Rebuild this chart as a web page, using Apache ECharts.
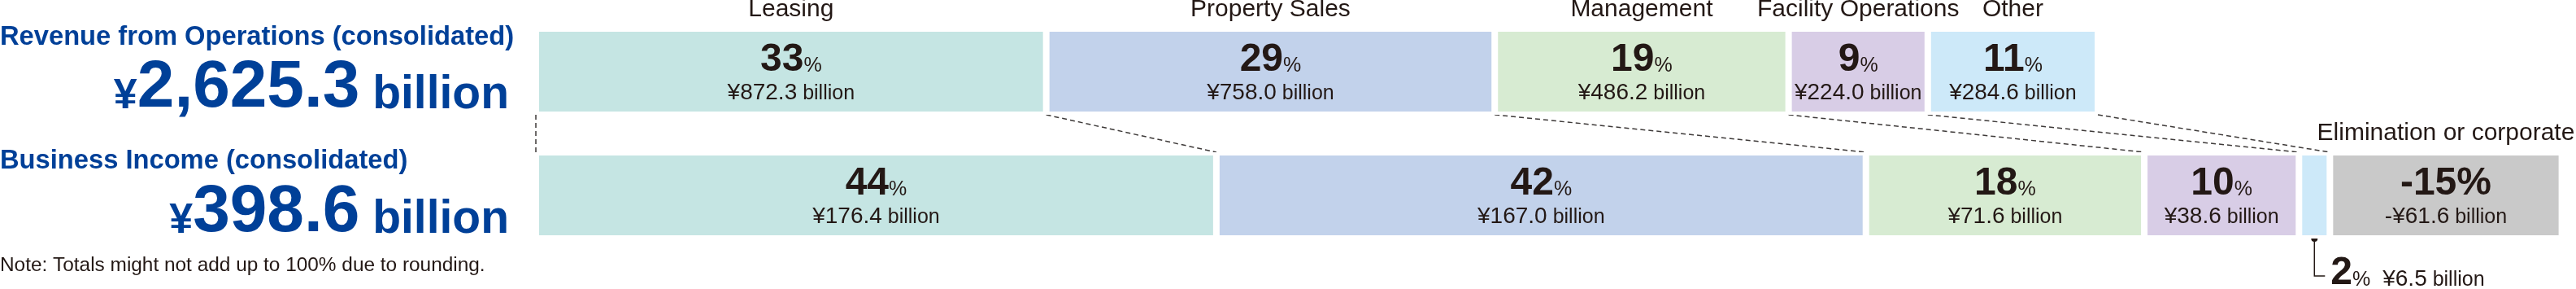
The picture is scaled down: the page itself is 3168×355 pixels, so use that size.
<!DOCTYPE html>
<html>
<head>
<meta charset="utf-8">
<title>Revenue and Business Income by Segment</title>
<script src="https://cdn.jsdelivr.net/npm/echarts@6/dist/echarts.min.js"></script>
<style>
  html, body { margin: 0; padding: 0; background: #ffffff; }
  #chart { width: 3168px; height: 355px; }
</style>
</head>
<body>
<div id="chart"></div>
<script>
// ---- data -------------------------------------------------------------
const segments = ['Leasing', 'Property Sales', 'Management', 'Facility Operations', 'Other', 'Elimination or corporate'];
const rows = ['Revenue from Operations (consolidated)', 'Business Income (consolidated)'];
const revenueShare = [33, 29, 19, 9, 11];                     // % of revenue
const revenueAmount = [872.3, 758.0, 486.2, 224.0, 284.6];    // ¥ billion
const incomeShare = [44, 42, 18, 10, 2, -15];                 // % of business income
const incomeAmount = [176.4, 167.0, 71.6, 38.6, 6.5, -61.6];  // ¥ billion
const rowTotals = [2625.3, 398.6];                            // ¥ billion
const noteText = 'Note: Totals might not add up to 100% due to rounding.';

// ---- styling ----------------------------------------------------------
const FONT = '"Liberation Sans", Arial, Helvetica, sans-serif';
const INK = '#231815';
const BLUE = '#004098';
const LINE = '#3e3a39';
const palette = ['#c5e5e3', '#c2d2eb', '#d7ebd2', '#d8cde6', '#cde9f9', '#c9c9c9'];
const BAR = 106;            // drawn bar thickness (includes the white seam)
const SEAM = 4;             // white gap between neighbouring blocks
const HALF = (BAR - SEAM) / 2;
const MID = 0.3465;         // alphabetic baseline below the 'middle' line, in ems
const BOT = 0.5 - MID;      // alphabetic baseline above the em-box bottom, in ems

// padding that puts a smaller token on the baseline of a bigger one (both bottom-aligned)
const lift = (size, ref) => (ref - size) * BOT;

const rowShares = [revenueShare, incomeShare];
const rowAmounts = [revenueAmount, incomeAmount];
const axisMax = Math.max(...rowShares.map(r => r.reduce((s, v) => s + Math.abs(v), 0)));

const fmtAmount = a => (a < 0 ? '-¥' : '¥') + Math.abs(a).toFixed(1);
const pctRich = s => (s < 0 ? `{n|${s}%}` : `{n|${s}}{s|%}`);

const labelRich = {
  n: { fontSize: 48, fontWeight: 'bold', fontFamily: FONT, color: INK, lineHeight: 50, verticalAlign: 'bottom' },
  s: { fontSize: 25, fontFamily: FONT, color: INK, verticalAlign: 'bottom', padding: [0, 0, lift(25, 48), 0] },
  v: { fontSize: 28, fontFamily: FONT, color: INK, lineHeight: 31, verticalAlign: 'bottom' },
  b: { fontSize: 25, fontFamily: FONT, color: INK, verticalAlign: 'bottom', padding: [0, 0, lift(25, 28), 0] }
};

// narrow blocks get their figures in a callout underneath instead of inside
const isNarrow = share => Math.abs(share) < 5;

const series = segments.map((name, i) => ({
  type: 'bar',
  name,
  stack: 'share',
  barWidth: BAR,
  silent: true,
  itemStyle: { color: palette[i], borderColor: '#ffffff', borderWidth: SEAM },
  label: {
    show: true,
    position: 'inside',
    color: INK,
    textBorderWidth: 0,
    fontFamily: FONT,
    rich: labelRich,
    formatter: p => {
      const share = rowShares[p.dataIndex][i];
      const amount = rowAmounts[p.dataIndex][i];
      return pctRich(share) + '\n' + `{v|${fmtAmount(amount)}}{b| billion}`;
    }
  },
  data: rowShares.map(r => {
    const s = r[i];
    if (s == null) return null;
    const item = { value: Math.abs(s) };
    if (isNarrow(s)) item.label = { show: false };
    return item;
  })
}));

const chart = echarts.init(document.getElementById('chart'), null, { renderer: 'canvas' });
chart.setOption({
  animation: false,
  backgroundColor: '#ffffff',
  grid: { left: 659, top: 12, width: axisMax * 19.02, height: 304 },
  xAxis: { type: 'value', min: 0, max: axisMax, show: false },
  yAxis: { type: 'category', data: rows, inverse: true, show: false },
  series
});

// ---- annotations placed from the chart's own coordinate system --------
const toPx = (share, row) => chart.convertToPixel({ gridIndex: 0 }, [share, row]);

function plainText(str, x, baseline, size, weight, color, align) {
  return {
    type: 'text', silent: true,
    style: {
      text: str, x, y: baseline - MID * size, fill: color,
      fontSize: size, fontWeight: weight, fontFamily: FONT,
      align, verticalAlign: 'middle'
    }
  };
}

function totalText(value, right, baseline) {
  const num = value.toLocaleString('en-US', { minimumFractionDigits: 1, maximumFractionDigits: 1 });
  const tok = (size, ref) => ({
    fontSize: size, fontWeight: 'bold', fontFamily: FONT, fill: BLUE,
    verticalAlign: 'bottom', padding: [0, 0, lift(size, ref), 0]
  });
  return {
    type: 'text', silent: true,
    style: {
      text: `{y|¥}{n|${num}}{b| billion}`,
      x: right, y: baseline + BOT * 82, align: 'right', verticalAlign: 'bottom',
      fill: BLUE, fontFamily: FONT, fontWeight: 'bold', fontSize: 82,
      rich: { y: tok(52, 82), n: tok(82, 82), b: tok(57, 82) }
    }
  };
}

const cum = r => r.reduce((acc, v) => { acc.push(acc[acc.length - 1] + Math.abs(v == null ? 0 : v)); return acc; }, [0]);
const topEdges = cum(revenueShare);
const bottomEdges = cum(incomeShare);
const edges = [topEdges, bottomEdges];

const g = [];

// row titles and totals
g.push(plainText(rows[0], 0, 57, 32.7, 'bold', BLUE, 'left'));
g.push(totalText(rowTotals[0], 626, 137));
g.push(plainText(rows[1], 0, 209, 32.7, 'bold', BLUE, 'left'));
g.push(totalText(rowTotals[1], 626, 290));
g.push(plainText(noteText, 0, 335, 24.4, 'normal', INK, 'left'));

// segment names above the first row each segment appears in
segments.forEach((name, i) => {
  const row = rowShares[0][i] != null ? 0 : 1;
  const mid = (edges[row][i] + edges[row][i + 1]) / 2;
  const [x, cy] = toPx(mid, row);
  g.push(plainText(name, x, cy - HALF - 15, 30, 'normal', INK, 'center'));
});

// dashed connectors between matching block edges of the two rows
for (let k = 0; k < topEdges.length; k++) {
  const [x1, c1] = toPx(topEdges[k], 0);
  const [x2, c2] = toPx(bottomEdges[k], 1);
  g.push({
    type: 'line', silent: true,
    shape: { x1, y1: c1 + HALF + 2, x2, y2: c2 - HALF - 2 },
    style: { stroke: LINE, lineWidth: 1.5, lineDash: [6, 4] }
  });
}

// callouts for narrow blocks
rowShares.forEach((r, row) => r.forEach((s, i) => {
  if (s == null || !isNarrow(s)) return;
  const mid = (edges[row][i] + edges[row][i + 1]) / 2;
  const [x, cy] = toPx(mid, row);
  const y0 = cy + HALF + 2;
  g.push({ type: 'circle', silent: true, shape: { cx: x, cy: y0, r: 4 }, style: { fill: INK } });
  g.push({
    type: 'polyline', silent: true,
    shape: { points: [[x, y0], [x, y0 + 46], [x + 13, y0 + 46]] },
    style: { stroke: INK, lineWidth: 1.5, fill: null }
  });
  const tok = (size, extra) => Object.assign({
    fontSize: size, fontFamily: FONT, fill: INK, verticalAlign: 'bottom'
  }, extra || {});
  g.push({
    type: 'text', silent: true,
    style: {
      text: `{n|${s}}{s|%}{v|${fmtAmount(rowAmounts[row][i])}}{b| billion}`,
      x: x + 20, y: y0 + 59.5 + BOT * 48, align: 'left', verticalAlign: 'bottom',
      fill: INK, fontFamily: FONT, fontSize: 48,
      rich: {
        n: tok(48, { fontWeight: 'bold' }),
        s: tok(25, { padding: [0, 0, lift(25, 48), 0] }),
        v: tok(28, { padding: [0, 0, lift(28, 48), 15] }),
        b: tok(25, { padding: [0, 0, lift(25, 48), 0] })
      }
    }
  });
}));

chart.setOption({ graphic: { elements: g } });
</script>
</body>
</html>
